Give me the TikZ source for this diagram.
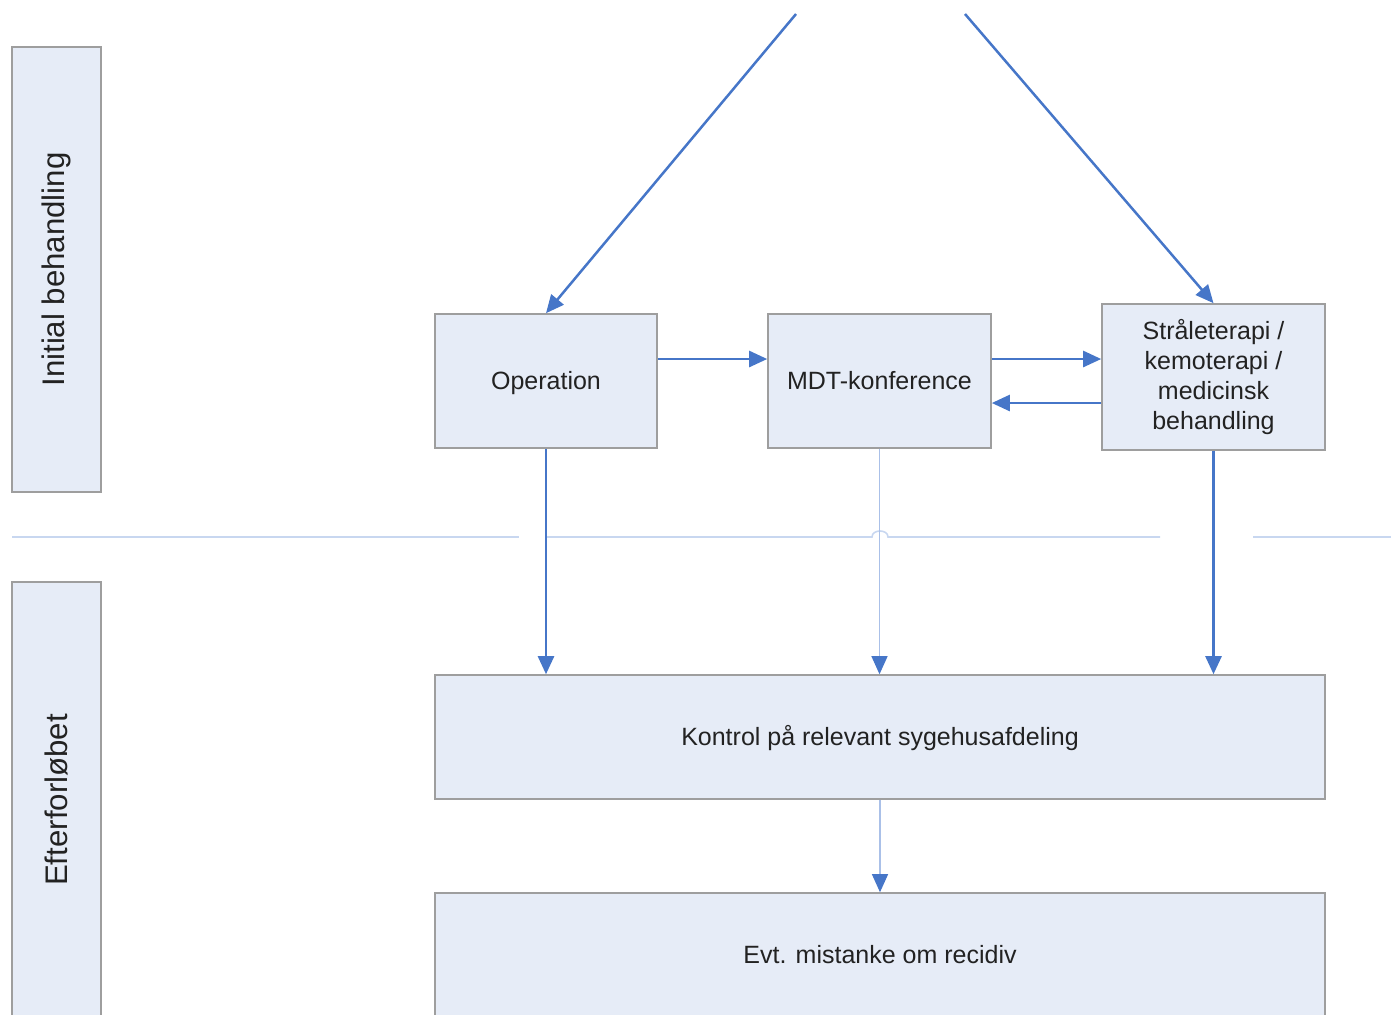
\documentclass[tikz,border=0pt]{standalone}
\usepackage{fontspec}
\setmainfont{Liberation Sans}
\usetikzlibrary{arrows.meta,positioning}
\definecolor{boxfill}{RGB}{230,236,247}
\definecolor{boxline}{RGB}{158,158,158}
\definecolor{flowblue}{RGB}{70,118,200}
\definecolor{thinblue}{RGB}{170,192,232}
\definecolor{sepblue}{RGB}{200,215,240}
\definecolor{textgray}{RGB}{34,34,34}

\begin{document}
\begin{tikzpicture}[
  x=0.5pt, y=-0.5pt,
  every node/.style={font=\fontsize{12.5}{15}\selectfont, text=textgray},
  flowbox/.style={draw=boxline, line width=0.8pt, fill=boxfill, inner sep=0pt, align=center},
  oneline/.style={text height=10pt, text depth=1.6pt},
  phasebox/.style={flowbox, minimum width=44.5pt, font=\fontsize{15.6}{18}\selectfont},
  flow/.style={draw=flowblue, line width=1.25pt, -{Triangle[length=9pt,width=8pt]}},
  thinflow/.style={draw=thinblue, line width=0.6pt, -{Triangle[length=9pt,width=8pt,color=flowblue]}},
  sep/.style={draw=sepblue, line width=0.8pt}
]
\useasboundingbox (0,0) rectangle (1391,1014);
\clip (0,0) rectangle (1391,1014);

% Faser
\node[phasebox, minimum height=222.5pt] (initial) at (56.5,269.5) {\rotatebox{90}{Initial behandling}};
\node[phasebox, minimum height=218pt] (efter) at (56.5,800) {\rotatebox{90}{Efterforløbet}};

% Skillelinje
\draw[sep] (12,537) -- (519,537);
\draw[sep] (546,537) -- (872,537) .. controls (872,529) and (888,529) .. (888,537) -- (1160,537);
\draw[sep] (1253,537) -- (1391,537);

% Behandling
\node[flowbox, oneline, minimum width=111pt, minimum height=67pt] (op) at (546,381) {Operation};
\node[flowbox, oneline, minimum width=111.5pt, minimum height=67pt] (mdt) at (879.5,381) {MDT-konference};
\node[flowbox, minimum width=111.5pt, minimum height=73pt] (straale) at (1213.5,377)
  {Stråleterapi /\\kemoterapi /\\medicinsk\\behandling};

% Efterforløb
\node[flowbox, oneline, minimum width=445pt, minimum height=62pt] (kontrol) at (880,737) {Kontrol på relevant sygehusafdeling};
\node[flowbox, oneline, minimum width=445pt, minimum height=62.5pt] (recidiv) at (880,955.5) {Evt. mistanke om recidiv};

% Pile
\coordinate (inL) at (796,14);
\coordinate (inR) at (965,14);
\coordinate (r1) at (0,359);
\coordinate (r2) at (0,403);
\draw[flow] (inL) -- (op.north);
\draw[flow] (inR) -- (straale.north);
\draw[flow] (op.east |- r1) -- (mdt.west |- r1);
\draw[flow] (mdt.east |- r1) -- (straale.west |- r1);
\draw[flow] (straale.west |- r2) -- (mdt.east |- r2);
\draw[flow] (op.south) -- (op.south |- kontrol.north);
\draw[thinflow] (mdt.south) -- (mdt.south |- kontrol.north);
\draw[flow] (straale.south) -- (straale.south |- kontrol.north);
\draw[thinflow] (kontrol.south) -- (recidiv.north);

\end{tikzpicture}
\end{document}
